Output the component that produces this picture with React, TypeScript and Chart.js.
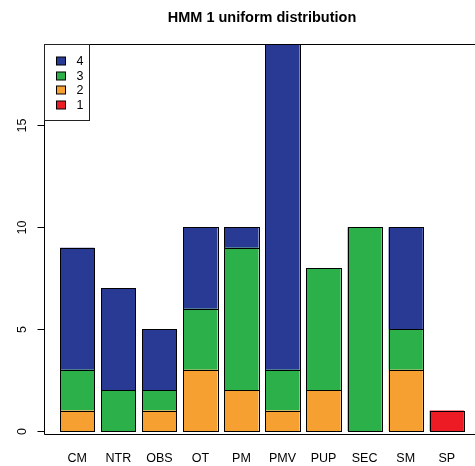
import React, { useEffect, useRef } from "react";
import { Chart, registerables } from "chart.js";

Chart.register(...registerables);

const categories = ["CM", "NTR", "OBS", "OT", "PM", "PMV", "PUP", "SEC", "SM", "SP"];
const series1 = [0, 0, 0, 0, 0, 0, 0, 0, 0, 1];
const series2 = [1, 0, 1, 3, 2, 1, 2, 0, 3, 0];
const series3 = [2, 2, 1, 3, 7, 2, 6, 10, 2, 0];
const series4 = [6, 5, 3, 4, 1, 16, 0, 0, 5, 0];
const yTicks = [0, 5, 10, 15];
const seriesLabels = ["1", "2", "3", "4"];
const seriesColors = ["#ED1C24", "#F7A032", "#2BB04A", "#293A94"];
const title = "HMM 1 uniform distribution";

// R barplot layout: width 1, space 0.2
const SPACE = 0.2;
const centers = categories.map((_, i) => SPACE + 0.5 + i * (1 + SPACE));
const xMinR = SPACE;
const xMaxR = categories.length * (1 + SPACE);
const xExt = (xMaxR - xMinR) * 0.04;

const FONT = "'Liberation Sans', Arial, Helvetica, sans-serif";

const rPlugin = {
  id: "rstyle",
  afterDatasetsDraw(chart: any) {
    const ctx = chart.ctx;
    ctx.save();
    ctx.strokeStyle = "#000";
    ctx.lineWidth = 1;
    chart.data.datasets.forEach((ds: any, k: number) => {
      const meta = chart.getDatasetMeta(k);
      meta.data.forEach((el: any, i: number) => {
        if (ds.data[i].y == null) return;
        const x0 = Math.round(el.x - el.width / 2);
        const x1 = Math.round(el.x + el.width / 2);
        const y0 = Math.round(el.y);
        const y1 = Math.round(el.base);
        ctx.strokeRect(x0 + 0.5, y0 + 0.5, x1 - x0, y1 - y0);
      });
    });
    ctx.restore();
  },
  afterDraw(chart: any) {
    const ctx = chart.ctx;
    const { left, right, top, bottom } = chart.chartArea;
    const ys = chart.scales.y;
    const xs = chart.scales.x;
    ctx.save();
    ctx.strokeStyle = "#000";
    ctx.lineWidth = 1;
    ctx.beginPath();
    const L = Math.round(left) + 0.5;
    const T = Math.round(top) + 0.5;
    const B = Math.round(bottom) + 0.5;
    ctx.moveTo(right + 5, T);
    ctx.lineTo(L, T);
    ctx.lineTo(L, B);
    ctx.lineTo(right + 5, B);
    ctx.stroke();
    ctx.fillStyle = "#000";
    ctx.font = `12.5px ${FONT}`;
    ctx.textAlign = "center";
    ctx.textBaseline = "middle";
    yTicks.forEach((v) => {
      const y = Math.round(ys.getPixelForValue(v)) + 0.5;
      ctx.beginPath();
      ctx.moveTo(L - 7, y);
      ctx.lineTo(L, y);
      ctx.stroke();
      ctx.save();
      ctx.translate(L - 22, y);
      ctx.rotate(-Math.PI / 2);
      ctx.fillText(String(v), 0, 0);
      ctx.restore();
    });
    categories.forEach((c, i) => {
      const x = xs.getPixelForValue(centers[i]);
      ctx.fillText(c, x, B + 24.5);
    });
    ctx.font = `bold 14.5px ${FONT}`;
    ctx.textBaseline = "alphabetic";
    ctx.fillText(title, (left + right) / 2, 21.5);
    // legend
    const rowH = 14.7;
    const n = seriesLabels.length;
    const lx = L;
    const ly = T;
    const lw = 45;
    const lh = 76;
    ctx.fillStyle = "#fff";
    ctx.fillRect(lx, ly, lw, lh);
    ctx.strokeStyle = "#222";
    ctx.strokeRect(lx, ly, lw, lh);
    ctx.font = `12.5px ${FONT}`;
    ctx.textAlign = "left";
    ctx.textBaseline = "middle";
    for (let k = 0; k < n; k++) {
      const idx = n - 1 - k;
      const cy = ly + 16.5 + k * rowH;
      ctx.fillStyle = seriesColors[idx];
      ctx.fillRect(lx + 12, Math.round(cy - 4), 9, 8);
      ctx.strokeStyle = "#000";
      ctx.strokeRect(lx + 12, Math.round(cy - 4), 9, 8);
      ctx.fillStyle = "#000";
      ctx.fillText(seriesLabels[idx], lx + 32, cy + 0.5);
    }
    ctx.restore();
  },
};

export default function App() {
  const ref = useRef<HTMLCanvasElement>(null);
  useEffect(() => {
    const canvas = ref.current!;
    const allSeries = [series1, series2, series3, series4];
    const chart = new Chart(canvas, {
      type: "bar",
      data: {
        datasets: allSeries.map((s, k) => ({
          label: seriesLabels[k],
          data: s.map((v, i) => ({ x: centers[i], y: v === 0 ? null : v })),
          backgroundColor: seriesColors[k],
          borderWidth: 0,
          inflateAmount: 0,
          barPercentage: 1,
          categoryPercentage: 1 / (1 + SPACE),
        })),
      },
      options: {
        responsive: false,
        animation: false,
        devicePixelRatio: 1,
        layout: { padding: { left: 44, top: 44, right: 10, bottom: 32 } },
        plugins: { legend: { display: false }, tooltip: { enabled: false }, title: { display: false } },
        scales: {
          x: { type: "linear", stacked: true, display: false, offset: false, min: xMinR - xExt, max: xMaxR + xExt },
          y: { stacked: true, display: false, min: -0.15, max: 19 },
        },
      },
      plugins: [rPlugin],
    } as any);
    return () => chart.destroy();
  }, []);
  return (
    <div style={{ position: "fixed", left: 0, top: 0, width: 475, height: 466, overflow: "hidden", background: "#fff" }}>
      <canvas ref={ref} width={490} height={466} style={{ width: 490, height: 466, display: "block" }} />
    </div>
  );
}
